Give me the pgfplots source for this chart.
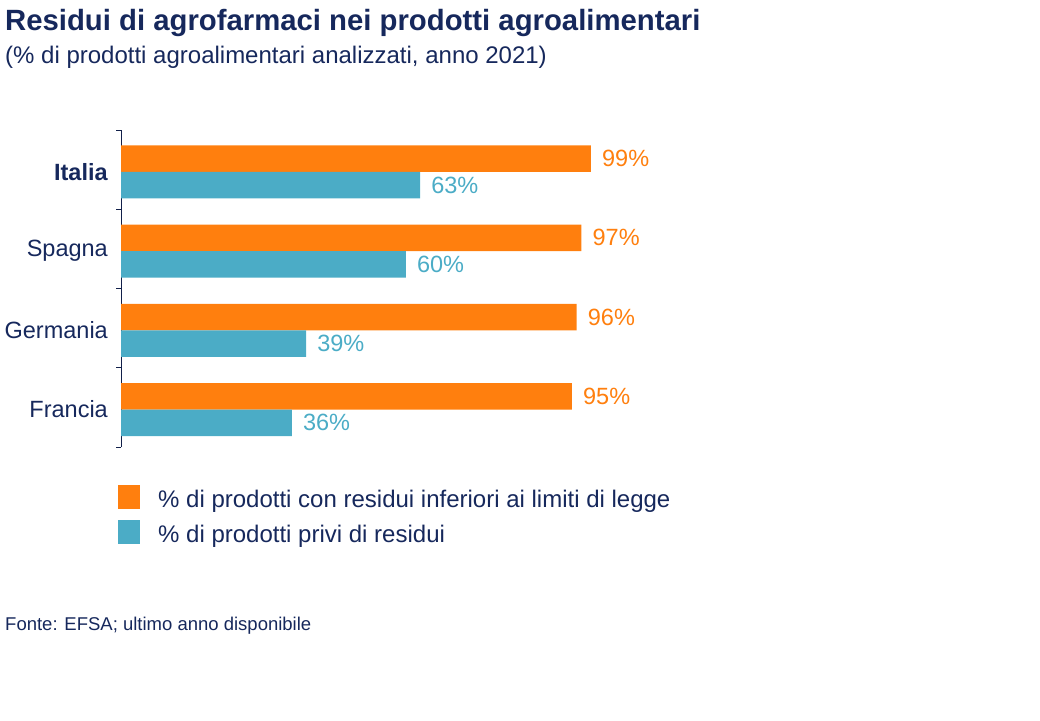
\documentclass[border=0pt]{standalone}
\usepackage{pgfplots}
\pgfplotsset{compat=1.18}
\usepackage{fontspec}
\setmainfont{Liberation Sans}
\definecolor{navy}{RGB}{22,40,92}
\definecolor{cor}{RGB}{255,127,14}
\definecolor{cte}{RGB}{75,172,198}
\begin{document}
\begin{tikzpicture}
\useasboundingbox (0,0) rectangle (1040pt,-720pt);
\node[anchor=base west, inner sep=0pt, text=navy, font=\fontsize{29.3}{34}\selectfont\bfseries] at (5pt,-30pt) {Residui di agrofarmaci nei prodotti agroalimentari};
\node[anchor=base west, inner sep=0pt, text=navy, font=\fontsize{24}{28}\selectfont] at (5pt,-63pt) {(\% di prodotti agroalimentari analizzati, anno 2021)};
\node[anchor=base west, inner sep=0pt, text=navy, font=\fontsize{18.5}{22}\selectfont] at (5pt,-630pt) {Fonte: EFSA; ultimo anno disponibile};
\begin{axis}[
  at={(121pt,-447pt)}, anchor=south west,
  scale only axis, width=474.7pt, height=317pt,
  xmin=0, xmax=100, ymin=-0.5, ymax=3.5,
  axis x line=none, axis y line*=left,
  axis line style={-, draw=navy!80!black, line width=0.8pt},
  xbar, bar width=26.5pt,
  ytick={0,1,2,3},
  yticklabels={Francia,Germania,Spagna,\textbf{Italia}},
  major tick length=0pt,
  minor ytick={-0.5,0.5,1.5,2.5,3.5},
  minor tick length=5pt, tick align=outside,
  minor tick style={draw=navy!80!black, line width=0.8pt},
  yticklabel style={font=\fontsize{23.5}{27}\selectfont, text=navy, inner sep=0pt, xshift=-13pt, yshift=-2pt},
  nodes near coords={\pgfmathprintnumber[assume math mode=true]{\pgfplotspointmeta}\%},
  nodes near coords align={horizontal},
  every node near coord/.append style={font=\fontsize{23.5}{27}\selectfont, anchor=west, inner sep=0pt, xshift=11pt},
  legend style={at={(axis description cs:0,0)}, anchor=north west, xshift=-3pt, yshift=-38pt,
    draw=none, fill=none, inner sep=0pt, row sep=10pt,
    font=\fontsize{24}{28}\selectfont, text=navy,
    nodes={inner sep=0pt, text depth=0.3em, text height=0.9em}},
  legend cell align=left,
  legend image code/.code={\fill[#1, draw=none] (0pt,-5pt) rectangle (22pt,19pt); \path (40pt,0pt);},
]
\addplot[fill=cor, draw=none, bar shift=11pt, every node near coord/.append style={text=cor}] coordinates {(95,0) (96,1) (97,2) (99,3)};
\addplot[fill=cte, draw=none, bar shift=-15.5pt, every node near coord/.append style={text=cte}] coordinates {(36,0) (39,1) (60,2) (63,3)};
\legend{\% di prodotti con residui inferiori ai limiti di legge, \% di prodotti privi di residui}
\end{axis}
\end{tikzpicture}
\end{document}
